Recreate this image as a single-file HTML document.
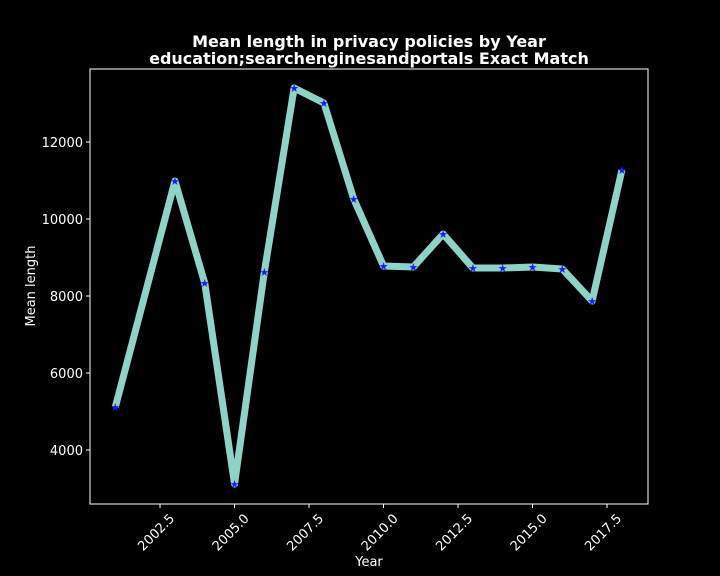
<!DOCTYPE html>
<html><head><meta charset="utf-8"><style>
body{margin:0;background:#000;}
svg{display:block;font-family:"DejaVu Sans","Liberation Sans",sans-serif;}
</style></head><body>
<svg id="chart" width="720" height="576">
<rect width="720" height="576" fill="#000"/>
<text x="369" y="47" fill="#fff" font-size="16" font-weight="bold" text-anchor="middle">Mean length in privacy policies by Year</text>
<text x="369" y="64" fill="#fff" font-size="16" font-weight="bold" text-anchor="middle">education;searchenginesandportals Exact Match</text>
<rect x="90" y="69" width="558" height="435" fill="none" stroke="#fff" stroke-width="1"/>
<g id="axes"></g>
<g id="series"></g>
<text x="369" y="566" fill="#fff" font-size="13" text-anchor="middle">Year</text>
<text transform="translate(35,286) rotate(-90)" fill="#fff" font-size="13" text-anchor="middle">Mean length</text>
</svg>
<script>
const years=[2001,2003,2004,2005,2006,2007,2008,2009,2010,2011,2012,2013,2014,2015,2016,2017,2018];
const meanLength=[5117,10987,8338,3117,8623,13403,13013,10520,8779,8753,9610,8727,8727,8753,8700,7870,11273];
const xTicks=[2002.5,2005.0,2007.5,2010.0,2012.5,2015.0,2017.5];
const yTicks=[4000,6000,8000,10000,12000];
const NS="http://www.w3.org/2000/svg";
function xs(v){return 90+(v-2000.15)*29.8;}
function ys(v){return 450-(v-4000)*0.0385;}
const ax=document.getElementById('axes');
xTicks.forEach(t=>{
 const l=document.createElementNS(NS,'line');
 l.setAttribute('x1',xs(t));l.setAttribute('x2',xs(t));l.setAttribute('y1',504);l.setAttribute('y2',508);l.setAttribute('stroke','#fff');
 
 
 ax.appendChild(l);
 const tx=document.createElementNS(NS,'text');
 tx.setAttribute('transform',`translate(${xs(t)+7},${511}) rotate(-45)`);
 tx.setAttribute('text-anchor','end');tx.setAttribute('dy','0.9em');tx.setAttribute('fill','#fff');tx.setAttribute('font-size','13');
 tx.textContent=t.toFixed(1);
 
 
 ax.appendChild(tx);
});
yTicks.forEach(t=>{
 const l=document.createElementNS(NS,'line');
 l.setAttribute('x1',86);l.setAttribute('x2',90);l.setAttribute('y1',ys(t));l.setAttribute('y2',ys(t));l.setAttribute('stroke','#fff');
 
 
 ax.appendChild(l);
 const tx=document.createElementNS(NS,'text');
 tx.setAttribute('x',83);tx.setAttribute('y',ys(t)+5);tx.setAttribute('text-anchor','end');tx.setAttribute('fill','#fff');tx.setAttribute('font-size','13');
 tx.textContent=t;
 
 
 ax.appendChild(tx);
});
const sg=document.getElementById('series');
const pl=document.createElementNS(NS,'polyline');
pl.setAttribute('points',years.map((y,i)=>xs(y)+','+ys(meanLength[i])).join(' '));
pl.setAttribute('fill','none');pl.setAttribute('stroke','#8dd3c7');pl.setAttribute('stroke-width','7');pl.setAttribute('stroke-linejoin','round');


sg.appendChild(pl);
years.forEach((y,i)=>{
 const m=document.createElementNS(NS,'text');
 m.setAttribute('x',xs(y));m.setAttribute('y',ys(meanLength[i])+4);m.setAttribute('text-anchor','middle');
 m.setAttribute('fill','#1a1aff');m.setAttribute('font-size','11');
 m.textContent='★';
 
 
 sg.appendChild(m);
});
</script>
</body></html>
